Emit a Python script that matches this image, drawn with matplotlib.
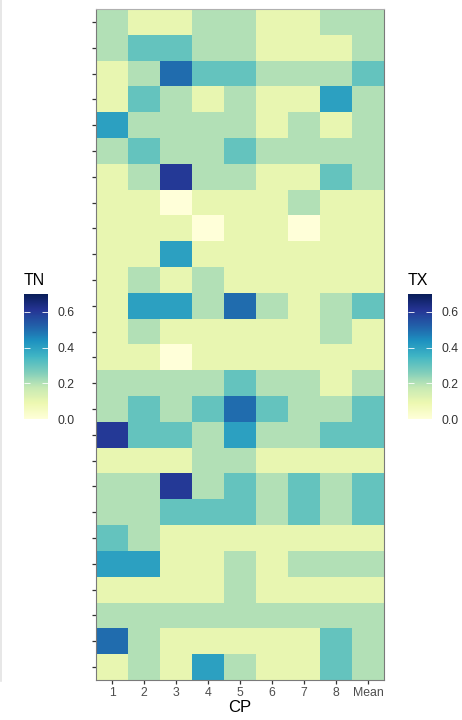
import matplotlib
matplotlib.use("Agg")
import matplotlib.pyplot as plt
import numpy as np
from matplotlib.colors import Normalize
from matplotlib.colorbar import ColorbarBase
from matplotlib.lines import Line2D

plt.rcParams['font.family'] = ['Liberation Sans', 'DejaVu Sans']

# Column categories along the x axis
cp_labels = ["1", "2", "3", "4", "5", "6", "7", "8", "Mean"]

# Values per column, listed from the top row to the bottom row
cp1 = [0.2, 0.2, 0.1, 0.1, 0.4, 0.2, 0.1, 0.1, 0.1, 0.1, 0.1, 0.1, 0.1,
       0.1, 0.2, 0.2, 0.6, 0.1, 0.2, 0.2, 0.3, 0.4, 0.1, 0.2, 0.5, 0.1]
cp2 = [0.1, 0.3, 0.2, 0.3, 0.2, 0.3, 0.2, 0.1, 0.1, 0.1, 0.2, 0.4, 0.2,
       0.1, 0.2, 0.3, 0.3, 0.1, 0.2, 0.2, 0.2, 0.4, 0.1, 0.2, 0.2, 0.2]
cp3 = [0.1, 0.3, 0.5, 0.2, 0.2, 0.2, 0.6, 0.0, 0.1, 0.4, 0.1, 0.4, 0.1,
       0.0, 0.2, 0.2, 0.3, 0.1, 0.6, 0.3, 0.1, 0.1, 0.1, 0.2, 0.1, 0.1]
cp4 = [0.2, 0.2, 0.3, 0.1, 0.2, 0.2, 0.2, 0.1, 0.0, 0.1, 0.2, 0.2, 0.1,
       0.1, 0.2, 0.3, 0.2, 0.2, 0.2, 0.3, 0.1, 0.1, 0.1, 0.2, 0.1, 0.4]
cp5 = [0.2, 0.2, 0.3, 0.2, 0.2, 0.3, 0.2, 0.1, 0.1, 0.1, 0.1, 0.5, 0.1,
       0.1, 0.3, 0.5, 0.4, 0.2, 0.3, 0.3, 0.1, 0.2, 0.2, 0.2, 0.1, 0.2]
cp6 = [0.1, 0.1, 0.2, 0.1, 0.1, 0.2, 0.1, 0.1, 0.1, 0.1, 0.1, 0.2, 0.1,
       0.1, 0.2, 0.3, 0.2, 0.1, 0.2, 0.2, 0.1, 0.1, 0.1, 0.2, 0.1, 0.1]
cp7 = [0.1, 0.1, 0.2, 0.1, 0.2, 0.2, 0.1, 0.2, 0.0, 0.1, 0.1, 0.1, 0.1,
       0.1, 0.2, 0.2, 0.2, 0.1, 0.3, 0.3, 0.1, 0.2, 0.1, 0.2, 0.1, 0.1]
cp8 = [0.2, 0.1, 0.2, 0.4, 0.1, 0.2, 0.3, 0.1, 0.1, 0.1, 0.1, 0.2, 0.2,
       0.1, 0.1, 0.2, 0.3, 0.1, 0.2, 0.2, 0.1, 0.2, 0.1, 0.2, 0.3, 0.3]
cp_mean = [0.2, 0.2, 0.3, 0.2, 0.2, 0.2, 0.2, 0.1, 0.1, 0.1, 0.1, 0.3, 0.1,
           0.1, 0.2, 0.3, 0.3, 0.1, 0.3, 0.3, 0.1, 0.2, 0.1, 0.2, 0.2, 0.2]

columns = [cp1, cp2, cp3, cp4, cp5, cp6, cp7, cp8, cp_mean]
grid = np.array(columns).T  # rows x columns

vmin, vmax = 0.0, 0.7
cmap = plt.get_cmap("YlGnBu")
norm = Normalize(vmin=vmin, vmax=vmax)

W, H = 462, 720
fig = plt.figure(figsize=(W / 100, H / 100), dpi=100)

def fx(px):
    return px / W

def fy(py):
    return 1 - py / H

# Heatmap panel
left, right, top, bottom = 96, 384, 9, 680
ax = fig.add_axes([fx(left), fy(bottom), fx(right - left), (bottom - top) / H])
n_rows, n_cols = grid.shape
ax.imshow(grid, cmap=cmap, norm=norm, aspect="auto", interpolation="nearest",
          extent=(-0.5, n_cols - 0.5, n_rows - 0.5, -0.5))
ax.set_xlim(-0.5, n_cols - 0.5)
ax.set_ylim(n_rows - 0.5, -0.5)
ax.set_xticks(range(n_cols))
ax.set_xticklabels(cp_labels)
ax.set_yticks(range(n_rows))
ax.set_yticklabels([""] * n_rows)
ax.tick_params(axis="both", length=3, width=0.9, color="#333333",
               labelsize=8.8, labelcolor="#4d4d4d", pad=2)
for side in ["left", "bottom", "right", "top"]:
    ax.spines[side].set_color("#7a7a7a")
    ax.spines[side].set_linewidth(0.8)
ax.spines["top"].set_color("#b0b0b0")
ax.set_xlabel("CP", fontsize=12, color="black", labelpad=1)


def draw_legend(x0, title):
    bar_top, bar_bottom = 294, 419
    cax = fig.add_axes([fx(x0), fy(bar_bottom), fx(24), (bar_bottom - bar_top) / H])
    cb = ColorbarBase(cax, cmap=cmap, norm=norm, orientation="vertical")
    cb.outline.set_visible(False)
    cb.set_ticks([0.0, 0.2, 0.4, 0.6])
    cb.set_ticklabels(["0.0", "0.2", "0.4", "0.6"])
    cax.tick_params(axis="y", direction="in", length=4.5, width=0.6,
                    color="white", left=True, right=True,
                    labelleft=False, labelright=True,
                    labelsize=8.8, labelcolor="#333333", pad=7)
    fig.text(fx(x0), fy(bar_top - 6), title, fontsize=11.5, color="black",
             ha="left", va="bottom")


draw_legend(24, "TN")
draw_legend(408, "TX")

# Thin light rule along the left edge
fig.add_artist(Line2D([fx(1), fx(1)], [fy(0), fy(681)], color="#e3e3e3",
                      linewidth=1.2, transform=fig.transFigure))

fig.savefig("out.png", dpi=100)
